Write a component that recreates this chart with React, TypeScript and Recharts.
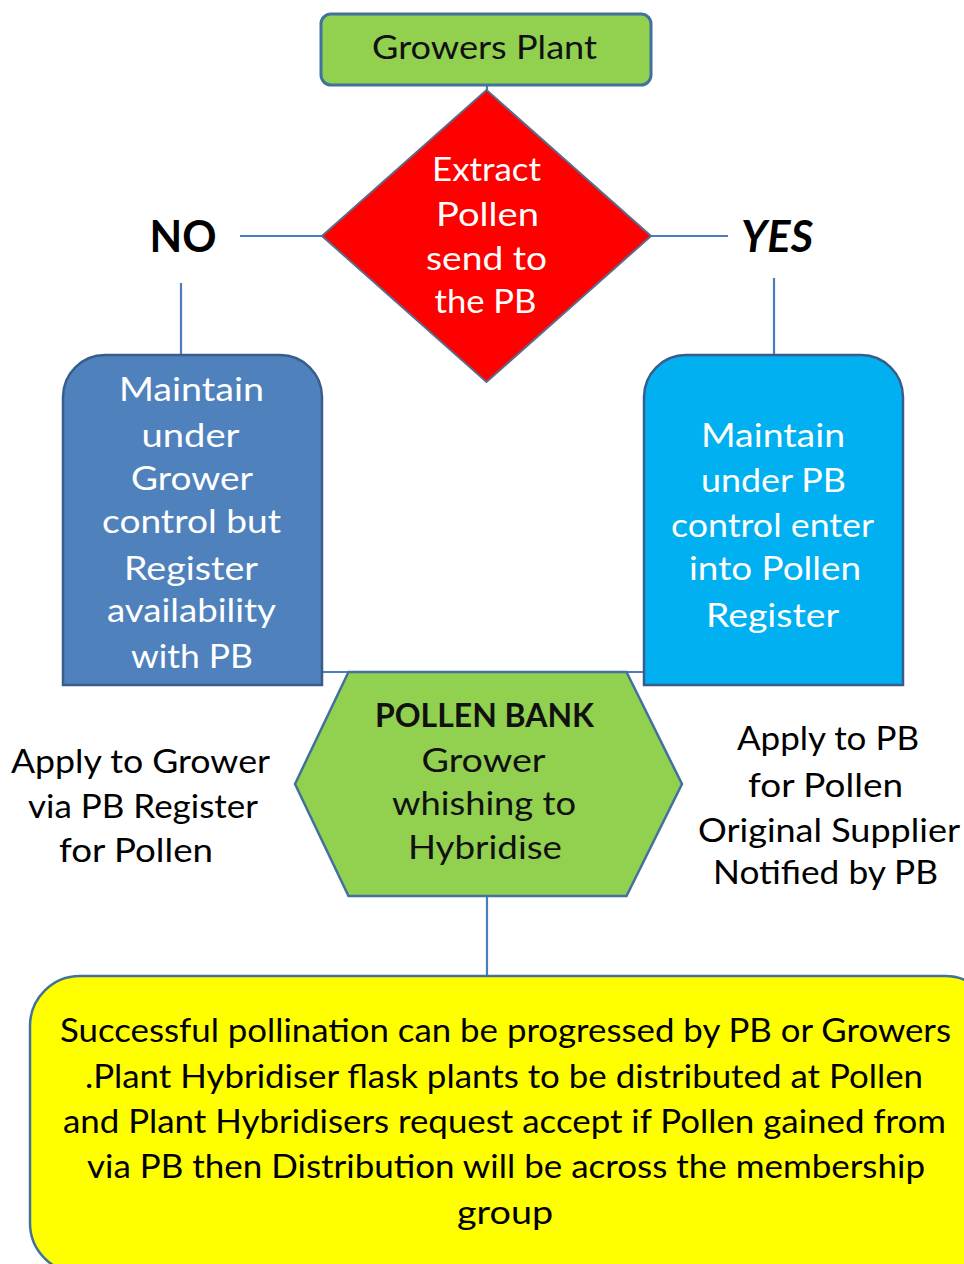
import React from 'react';
import { ScatterChart, Scatter, XAxis, YAxis, ReferenceLine } from 'recharts';

// ---------------- DATA ----------------
const growersLines = ['Growers Plant'];
const extractLines = ['Extract', 'Pollen', 'send to', 'the PB'];
const noBoxLines = ['Maintain', 'under', 'Grower', 'control but', 'Register', 'availability', 'with PB'];
const yesBoxLines = ['Maintain', 'under PB', 'control enter', 'into Pollen', 'Register'];
const bankLines = ['POLLEN BANK', 'Grower', 'whishing to', 'Hybridise'];
const applyGrowerLines = ['Apply to Grower', 'via PB Register', 'for Pollen'];
const applyPbLines = ['Apply to PB', 'for Pollen', 'Original Supplier', 'Notified by PB'];
const outcomeLines = [
  'Successful pollination can be progressed by PB or Growers',
  '.Plant Hybridiser flask plants to be distributed at Pollen',
  'and Plant Hybridisers request accept if Pollen gained from',
  'via PB then Distribution will be across the membership',
  'group',
];
const branchLabels = ['NO', 'YES'];

// node centres in chart units (x: 0..964, y: 0..1264 top-down)
const nodeIds = ['growers', 'extract', 'noBox', 'yesBox', 'bank', 'applyGrower', 'applyPb', 'outcome', 'no', 'yes'];
const nodeX = [486, 486.5, 192.5, 773.5, 488.5, 140, 828, 512.5, 183, 777];
const nodeY = [49.5, 236, 520, 520, 784, 806, 806, 1133, 236, 236];

// connector endpoints [x1, y1, x2, y2]
const connectors = [
  [487, 85, 487, 90],
  [322, 236, 240, 236],
  [651, 236, 728, 236],
  [181, 283, 181, 356],
  [774, 278, 774, 356],
  [318, 672, 646, 672],
  [487, 896, 487, 977],
];

// ---------------- LAYOUT / STYLE ----------------
const FONT = "Lato, 'Open Sans', 'Liberation Sans', sans-serif";
const BORDER = '#41719C';
const LINE = '#4A7EBB';

// per line: [dx, dy(baseline), width]
const TEXT_LAYOUT: Record<string, number[][]> = {
  growers: [[-1.5, 9.5, 225]],
  extract: [[0, -55, 109], [1, -10, 103], [0, 34, 121], [-1, 77, 102]],
  noBox: [[-1, -119, 145], [-2, -73, 98], [-0.5, -30, 122], [-1, 13, 179], [-1.5, 60, 134], [-1, 102, 169], [-0.5, 148, 122]],
  yesBox: [[-0.5, -73, 144], [0, -28, 145], [-1, 17, 203], [1.5, 60, 172], [-1, 107, 133]],
  bank: [[-4, -57, 219], [-5, -12, 124], [-4.5, 31, 184], [-3.5, 75, 154]],
  applyGrower: [[0.5, -33, 259], [3, 12, 230], [-4, 56, 154]],
  applyPb: [[0, -56, 182], [-2.5, -9, 155], [1, 36, 262], [-2.5, 78, 225]],
  outcome: [[-7, -91, 891], [-8.5, -45, 838], [-8, 0, 883], [-6.5, 45, 838], [-7.5, 91, 96]],
  no: [[0, 16, 67]],
  yes: [[0, 16, 72]],
};

const LINES: Record<string, string[]> = {
  growers: growersLines,
  extract: extractLines,
  noBox: noBoxLines,
  yesBox: yesBoxLines,
  bank: bankLines,
  applyGrower: applyGrowerLines,
  applyPb: applyPbLines,
  outcome: outcomeLines,
  no: [branchLabels[0]],
  yes: [branchLabels[1]],
};

const TEXT_STYLE: Record<string, { fill: string; size: number; weight?: number; italic?: boolean; boldFirst?: boolean }> = {
  growers: { fill: '#111', size: 33 },
  extract: { fill: '#fff', size: 33 },
  noBox: { fill: '#fff', size: 33 },
  yesBox: { fill: '#fff', size: 33 },
  bank: { fill: '#111', size: 33, boldFirst: true },
  applyGrower: { fill: '#000', size: 33 },
  applyPb: { fill: '#000', size: 33 },
  outcome: { fill: '#000', size: 33 },
  no: { fill: '#000', size: 43, weight: 700 },
  yes: { fill: '#000', size: 43, weight: 700, italic: true },
};

const data = nodeIds.map((id, i) => ({ id, x: nodeX[i], y: nodeY[i] }));

function topRoundPath(x: number, y: number, w: number, h: number, r: number) {
  return `M${x},${y + h} L${x},${y + r} A${r},${r} 0 0 1 ${x + r},${y} L${x + w - r},${y} A${r},${r} 0 0 1 ${x + w},${y + r} L${x + w},${y + h} Z`;
}

function renderShape(id: string, cx: number, cy: number) {
  switch (id) {
    case 'growers':
      return <rect x={cx - 165} y={cy - 35.5} width={330} height={71} rx={10} fill="#92D050" stroke={BORDER} strokeWidth={3} />;
    case 'extract':
      return (
        <polygon
          points={`${cx},${cy - 146} ${cx + 164.5},${cy} ${cx},${cy + 146} ${cx - 164.5},${cy}`}
          fill="#FF0000"
          stroke="#5A6A8C"
          strokeWidth={2}
        />
      );
    case 'noBox':
      return <path d={topRoundPath(cx - 129.5, cy - 165, 259, 330, 42)} fill="#4F81BD" stroke="#385D8A" strokeWidth={2.5} />;
    case 'yesBox':
      return <path d={topRoundPath(cx - 129.5, cy - 165, 259, 330, 42)} fill="#00B0F0" stroke="#385D8A" strokeWidth={2.5} />;
    case 'bank':
      return (
        <polygon
          points={`${cx - 193.5},${cy} ${cx - 140},${cy - 112} ${cx + 138},${cy - 112} ${cx + 193.5},${cy} ${cx + 138},${cy + 112} ${cx - 140},${cy + 112}`}
          fill="#92D050"
          stroke={BORDER}
          strokeWidth={2.5}
        />
      );
    case 'outcome':
      return <rect x={cx - 482.5} y={cy - 157} width={965} height={297} rx={50} fill="#FFFF00" stroke={BORDER} strokeWidth={2.5} />;
    default:
      return null;
  }
}

function renderText(id: string, cx: number, cy: number) {
  const lines = LINES[id] || [];
  const lay = TEXT_LAYOUT[id] || [];
  const st = TEXT_STYLE[id];
  return lines.map((t, i) => {
    const [dx, dy, w] = lay[i];
    const bold = st.weight === 700 || (st.boldFirst && i === 0);
    return (
      <text
        key={i}
        x={cx + dx - w / 2}
        y={cy + dy}
        textLength={w}
        lengthAdjust="spacingAndGlyphs"
        fontFamily={FONT}
        fontSize={st.size}
        fontWeight={bold ? 700 : 400}
        fontStyle={st.italic ? 'italic' : 'normal'}
        fill={st.fill}
        textAnchor="start"
      >
        {t}
      </text>
    );
  });
}

const NodeShape = (props: any) => {
  const { cx, cy, payload } = props;
  if (cx == null || cy == null || !payload) return <g />;
  return (
    <g>
      {renderShape(payload.id, cx, cy)}
      {renderText(payload.id, cx, cy)}
    </g>
  );
};

export default function App() {
  return (
    <div style={{ position: 'absolute', left: 0, top: 0, width: 964, height: 1264, background: '#fff', overflow: 'hidden' }}>
      <ScatterChart width={964} height={1264} margin={{ top: 0, right: 0, bottom: 0, left: 0 }}>
        <XAxis type="number" dataKey="x" domain={[0, 964]} hide />
        <YAxis type="number" dataKey="y" domain={[0, 1264]} reversed hide />
        {connectors.map((c, i) => (
          <ReferenceLine
            key={i}
            segment={[{ x: c[0], y: c[1] }, { x: c[2], y: c[3] }]}
            stroke={LINE}
            strokeWidth={2.2}
            ifOverflow="visible"
          />
        ))}
        <Scatter data={data} isAnimationActive={false} shape={NodeShape} />
      </ScatterChart>
    </div>
  );
}
